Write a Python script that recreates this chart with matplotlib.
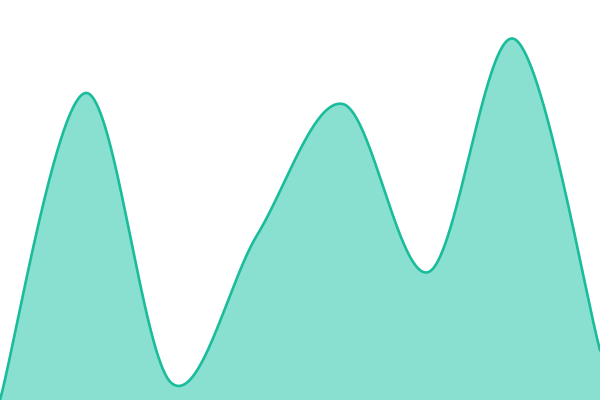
import numpy as np
import matplotlib
matplotlib.use("Agg")
import matplotlib.pyplot as plt

categories = [0, 1, 2, 3, 4, 5, 6, 7]
values = [0, 307, 17, 165, 296, 128, 361, 50]

def cardinal_curve(xs, ys, n=80):
    P = np.column_stack([np.asarray(xs, float), np.asarray(ys, float)])
    m = len(P)
    ext = np.vstack([P[0], P, P[-1]])
    pts = []
    u = np.linspace(0, 1, n)[:, None]
    for i in range(m - 1):
        pm, p0, p1, p2 = ext[i], ext[i+1], ext[i+2], ext[i+3]
        c1 = p0 + (p1 - pm) / 6
        c2 = p1 - (p2 - p0) / 6
        b = (1-u)**3*p0 + 3*(1-u)**2*u*c1 + 3*(1-u)*u**2*c2 + u**3*p1
        pts.append(b)
    B = np.vstack(pts)
    return B[:, 0], B[:, 1]

fig = plt.figure(figsize=(6, 4), dpi=100)
ax = fig.add_axes([0, 0, 1, 1])
x, y = cardinal_curve(categories, values)
ax.fill_between(x, 0, y, color="#8ae0d0", linewidth=0)
ax.plot(x, y, color="#1abc9c", linewidth=1.9)
ax.set_xlim(0, 7)
ax.set_ylim(0, 400)
ax.axis("off")
fig.savefig("out.png", dpi=100)
